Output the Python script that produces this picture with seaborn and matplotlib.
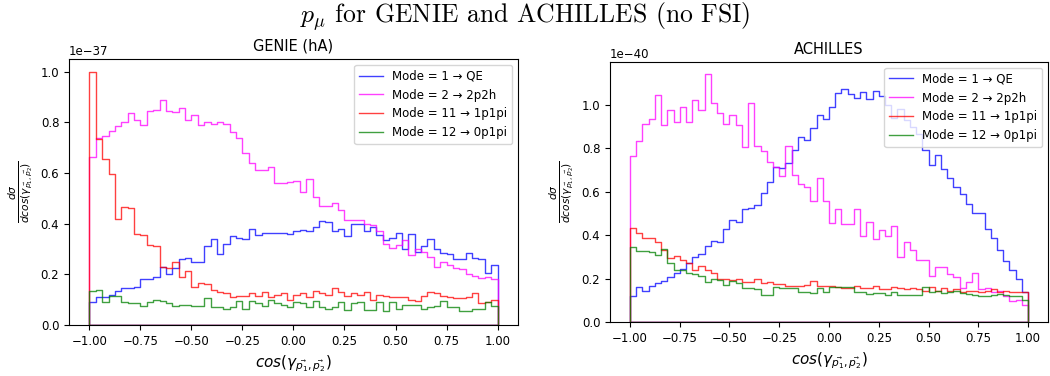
import numpy as np
import pandas as pd
import matplotlib
matplotlib.use("Agg")
import matplotlib.pyplot as plt
from matplotlib.lines import Line2D
from matplotlib.colors import to_rgba
import seaborn as sns

# ---------- DATA (units of 1e-37 / 1e-40) ----------
mode_labels = ["Mode = 1 → QE", "Mode = 2 → 2p2h",
               "Mode = 11 → 1p1pi", "Mode = 12 → 0p1pi"]
mode_colors = ["blue", "magenta", "red", "green"]

n_bins = 64
edges = np.linspace(-1, 1, n_bins + 1)
centers = 0.5 * (edges[:-1] + edges[1:])

genie_qe = [0.092, 0.11, 0.112, 0.12, 0.135, 0.145, 0.148, 0.15, 0.18, 0.18, 0.19, 0.23, 0.20, 0.225, 0.26, 0.265,
            0.25, 0.25, 0.31, 0.34, 0.28, 0.32, 0.35, 0.345, 0.34, 0.38, 0.355, 0.365, 0.365, 0.365, 0.365, 0.36,
            0.37, 0.375, 0.37, 0.385, 0.41, 0.405, 0.37, 0.38, 0.35, 0.40, 0.40, 0.37, 0.385, 0.355, 0.335, 0.345,
            0.365, 0.30, 0.36, 0.29, 0.31, 0.34, 0.30, 0.285, 0.28, 0.26, 0.26, 0.285, 0.265, 0.26, 0.205, 0.235]
genie_2p2h = [0.665, 0.74, 0.745, 0.765, 0.785, 0.80, 0.835, 0.81, 0.79, 0.845, 0.85, 0.89, 0.845, 0.84, 0.855, 0.81,
              0.83, 0.79, 0.80, 0.795, 0.80, 0.795, 0.76, 0.74, 0.68, 0.64, 0.61, 0.61, 0.625, 0.56, 0.56, 0.565,
              0.57, 0.525, 0.575, 0.505, 0.47, 0.47, 0.48, 0.455, 0.415, 0.415, 0.415, 0.40, 0.395, 0.37, 0.32, 0.305,
              0.315, 0.335, 0.275, 0.30, 0.29, 0.27, 0.23, 0.25, 0.235, 0.225, 0.22, 0.20, 0.195, 0.185, 0.19, 0.18]
genie_1p1pi = [1.0, 0.735, 0.655, 0.595, 0.42, 0.465, 0.46, 0.36, 0.355, 0.315, 0.31, 0.23, 0.225, 0.25, 0.19, 0.215,
               0.15, 0.165, 0.16, 0.14, 0.13, 0.125, 0.11, 0.115, 0.115, 0.125, 0.115, 0.13, 0.11, 0.12, 0.125, 0.10,
               0.12, 0.125, 0.11, 0.135, 0.125, 0.12, 0.145, 0.13, 0.115, 0.125, 0.12, 0.13, 0.10, 0.12, 0.115, 0.11,
               0.11, 0.11, 0.10, 0.095, 0.115, 0.13, 0.125, 0.115, 0.11, 0.105, 0.105, 0.11, 0.125, 0.085, 0.09, 0.10]
genie_0p1pi = [0.135, 0.14, 0.09, 0.115, 0.115, 0.09, 0.085, 0.085, 0.075, 0.09, 0.10, 0.095, 0.085, 0.075, 0.08, 0.08,
               0.075, 0.075, 0.105, 0.07, 0.07, 0.065, 0.07, 0.095, 0.065, 0.095, 0.085, 0.075, 0.10, 0.085, 0.08, 0.07,
               0.09, 0.085, 0.07, 0.095, 0.07, 0.065, 0.07, 0.09, 0.06, 0.085, 0.09, 0.06, 0.06, 0.09, 0.055, 0.09,
               0.065, 0.08, 0.08, 0.08, 0.065, 0.07, 0.075, 0.095, 0.07, 0.07, 0.055, 0.055, 0.065, 0.065, 0.09, 0.075]

achilles_qe = [0.12, 0.16, 0.145, 0.165, 0.18, 0.19, 0.205, 0.225, 0.245, 0.27, 0.30, 0.315, 0.35, 0.375, 0.37, 0.43,
               0.47, 0.46, 0.52, 0.525, 0.54, 0.595, 0.645, 0.715, 0.71, 0.73, 0.79, 0.85, 0.84, 0.895, 0.955, 0.935,
               0.99, 1.055, 1.075, 1.05, 1.03, 1.06, 1.025, 1.065, 1.04, 1.0, 0.94, 0.98, 0.93, 0.90, 0.865, 0.79,
               0.725, 0.77, 0.705, 0.665, 0.62, 0.59, 0.545, 0.50, 0.50, 0.43, 0.385, 0.33, 0.28, 0.24, 0.20, 0.14]
achilles_2p2h = [0.765, 0.835, 0.91, 0.935, 1.045, 0.905, 0.975, 0.92, 0.99, 0.92, 1.02, 0.975, 1.14, 1.01, 0.96, 0.91,
                 0.955, 0.905, 0.805, 1.01, 0.81, 0.785, 0.735, 0.715, 0.67, 0.81, 0.675, 0.635, 0.62, 0.555, 0.665, 0.555,
                 0.455, 0.52, 0.45, 0.45, 0.52, 0.395, 0.46, 0.38, 0.425, 0.395, 0.44, 0.30, 0.37, 0.33, 0.285, 0.285,
                 0.21, 0.255, 0.255, 0.22, 0.205, 0.155, 0.185, 0.225, 0.15, 0.155, 0.14, 0.145, 0.12, 0.095, 0.10, 0.08]
achilles_1p1pi = [0.435, 0.41, 0.385, 0.385, 0.37, 0.33, 0.295, 0.305, 0.285, 0.27, 0.24, 0.26, 0.24, 0.225, 0.20, 0.20,
                  0.195, 0.20, 0.185, 0.185, 0.20, 0.18, 0.185, 0.175, 0.175, 0.165, 0.165, 0.165, 0.17, 0.19, 0.165, 0.165,
                  0.165, 0.16, 0.155, 0.155, 0.165, 0.155, 0.155, 0.165, 0.15, 0.15, 0.16, 0.155, 0.15, 0.155, 0.15, 0.145,
                  0.16, 0.145, 0.155, 0.145, 0.15, 0.14, 0.145, 0.145, 0.14, 0.145, 0.15, 0.14, 0.145, 0.14, 0.14, 0.14]
achilles_0p1pi = [0.345, 0.325, 0.325, 0.32, 0.31, 0.335, 0.27, 0.24, 0.24, 0.225, 0.22, 0.21, 0.185, 0.20, 0.195, 0.17,
                  0.19, 0.18, 0.155, 0.155, 0.15, 0.125, 0.125, 0.16, 0.155, 0.155, 0.155, 0.14, 0.14, 0.135, 0.155, 0.14,
                  0.16, 0.16, 0.16, 0.16, 0.14, 0.14, 0.13, 0.135, 0.135, 0.125, 0.14, 0.125, 0.125, 0.125, 0.125, 0.16,
                  0.14, 0.145, 0.135, 0.14, 0.145, 0.135, 0.13, 0.125, 0.12, 0.12, 0.125, 0.13, 0.125, 0.12, 0.12, 0.10]

# ---------- STYLE ----------
plt.rcParams["xtick.labelsize"] = 8.5
plt.rcParams["ytick.labelsize"] = 8.5
line_alpha = 0.75

xlab = r"$cos(\gamma_{\vec{p_1},\vec{p_2}})$"
ylab = r"$\frac{d\sigma}{dcos(\gamma_{\vec{p_1},\vec{p_2}})}$"


def draw_panel(ax, series, scale, title):
    for vals, col in zip(series, mode_colors):
        df = pd.DataFrame({"cos": centers, "w": np.array(vals) * scale})
        # bins as a plain list (seaborn compares bins == "auto")
        sns.histplot(data=df, x="cos", weights="w", bins=list(edges),
                     element="step", fill=True, color=col, facecolor="none",
                     edgecolor=to_rgba(col, line_alpha), linewidth=1.0, ax=ax)
    ax.set_title(title, fontsize=10.5)
    ax.set_xlabel(xlab, fontsize=11)
    ax.set_ylabel(ylab, fontsize=11)
    ax.set_xticks(np.arange(-1, 1.01, 0.25))
    handles = [Line2D([], [], color=to_rgba(c, line_alpha), lw=1.0) for c in mode_colors]
    ax.legend(handles, mode_labels, loc="upper right", fontsize=8.5)


fig = plt.figure(figsize=(10.5, 3.76), dpi=100)
ax1 = fig.add_axes([0.0657, 0.1356, 0.4276, 0.7074])
ax2 = fig.add_axes([0.581, 0.1436, 0.4171, 0.6915])

draw_panel(ax1, [genie_qe, genie_2p2h, genie_1p1pi, genie_0p1pi], 1e-37, "GENIE (hA)")
draw_panel(ax2, [achilles_qe, achilles_2p2h, achilles_1p1pi, achilles_0p1pi], 1e-40, "ACHILLES")

fig.suptitle(r"$p_\mu$ for GENIE and ACHILLES (no FSI)", fontfamily="cmr10",
             math_fontfamily="cm", fontsize=18.5, y=0.941, va="baseline")

fig.savefig("out.png", dpi=100)
